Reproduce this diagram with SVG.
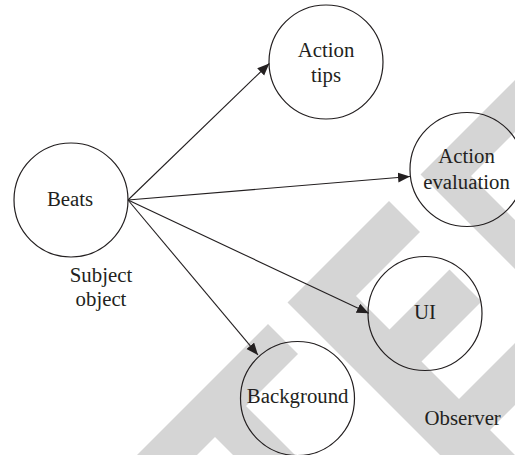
<svg xmlns="http://www.w3.org/2000/svg" width="515" height="455" viewBox="0 0 515 455">
  <defs>
    <style>
      .wm { fill: #d5d5d5; stroke: none; }
      .node { fill: none; stroke: #231f20; stroke-width: 1.2; }
      .lbl { font-family: "Liberation Serif", "Times New Roman", serif; font-size: 20.8px; fill: #231f20; text-anchor: middle; }
      .edge { fill: none; stroke: #231f20; stroke-width: 1.1; marker-end: url(#arrow); }
    </style>
    <marker id="arrow" markerUnits="userSpaceOnUse" markerWidth="13" markerHeight="11" refX="12" refY="5" orient="auto">
      <path d="M0,0 L12,5 L0,10 Z" fill="#231f20"/>
    </marker>
  </defs>
  <rect x="0" y="0" width="515" height="455" fill="#ffffff"/>
  <g id="watermark">
    <polygon class="wm" points="268,324 298,354 246,406 320,480 289,511 215,437 166,486 136,456"/>
    <polygon class="wm" points="287.5,302.5 389,201 420,232 356,296 389.5,329.5 449.5,269.5 481.5,301.5 421.5,361.5 459,399 519,339 550,370 490,430 530,470 492.5,507.5"/>
    <polygon class="wm" points="420.5,174.5 597.5,-2.5 623.5,23.5 471,176 597.5,302.5 573,327"/>
  </g>
  <g id="connectors">
    <line class="edge" x1="128" y1="200" x2="269.3" y2="63.5"/>
    <line class="edge" x1="128" y1="200" x2="410" y2="176.5"/>
    <line class="edge" x1="128" y1="200" x2="368.8" y2="313.3"/>
    <line class="edge" x1="128" y1="200" x2="258" y2="355"/>
  </g>
  <g id="beats">
    <circle class="node" cx="71" cy="200" r="57"/>
    <text class="lbl" x="70" y="205.7">Beats</text>
  </g>
  <g id="subject-object">
    <text class="lbl" x="101" y="281.7">Subject</text>
    <text class="lbl" x="101" y="305.7">object</text>
  </g>
  <g id="action-tips">
    <circle class="node" cx="326" cy="62" r="57"/>
    <text class="lbl" x="326" y="56.7">Action</text>
    <text class="lbl" x="326" y="81.7">tips</text>
  </g>
  <g id="action-evaluation">
    <circle class="node" cx="467" cy="169.5" r="57"/>
    <text class="lbl" x="466.5" y="163.3">Action</text>
    <text class="lbl" x="466.5" y="189">evaluation</text>
  </g>
  <g id="ui">
    <circle class="node" cx="425" cy="313.5" r="57"/>
    <text class="lbl" x="425" y="319.3">UI</text>
  </g>
  <g id="background">
    <circle class="node" cx="297.5" cy="398.5" r="57"/>
    <text class="lbl" x="297.7" y="403.3">Background</text>
  </g>
  <g id="observer">
    <text class="lbl" x="462.7" y="425">Observer</text>
  </g>
</svg>
